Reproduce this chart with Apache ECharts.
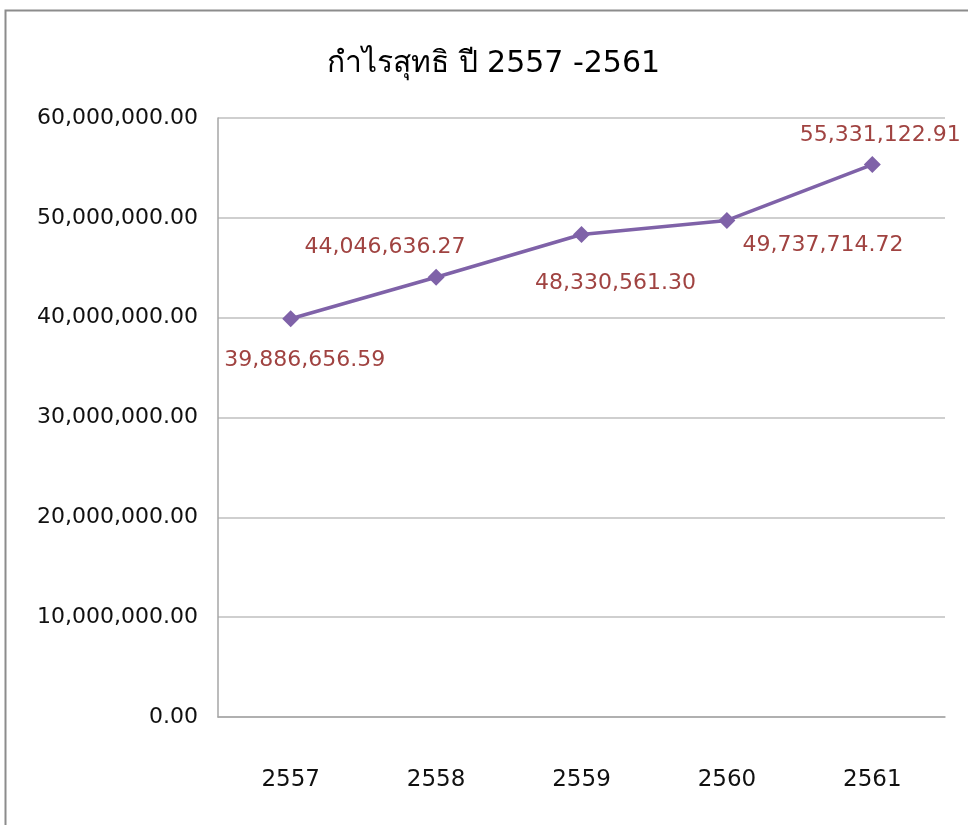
<!DOCTYPE html>
<html>
<head>
<meta charset="utf-8">
<script src="https://cdn.jsdelivr.net/npm/echarts@6/dist/echarts.min.js"></script>
<style>
  html, body { margin: 0; padding: 0; background: #fff; }
  #chart { width: 968px; height: 825px; }
</style>
</head>
<body>
<div id="chart"></div>
<script>
  // ปี (พ.ศ.)
  const years = ['2557', '2558', '2559', '2560', '2561'];
  // กำไรสุทธิ
  const netProfit = [39886656.59, 44046636.27, 48330561.30, 49737714.72, 55331122.91];
  // ตำแหน่งป้ายข้อความของแต่ละจุด (เลื่อนจากจุด)
  const labelOffsets = [[14, 41], [-51, -30], [34, 49], [96, 25], [8, -29]];

  function fmt(v) {
    return v.toLocaleString('en-US', { minimumFractionDigits: 2, maximumFractionDigits: 2 });
  }

  let chart = echarts.init(document.getElementById('chart'));
  let option = {
    backgroundColor: '#fff',
    title: {
      text: 'กำไรสุทธิ ปี 2557 -2561',
      left: 322,
      top: 44,
      textStyle: { fontSize: 30, fontWeight: 'normal', color: '#000', fontFamily: 'DejaVu Sans' }
    },
    graphic: [{
      type: 'rect',
      shape: { x: 5.5, y: 10.5, width: 1200, height: 1200 },
      style: { fill: 'none', stroke: '#8c8c8c', lineWidth: 2 },
      silent: true
    }],
    grid: { left: 218, right: 23, top: 118, bottom: 108 },
    xAxis: {
      type: 'category',
      data: years,
      boundaryGap: true,
      axisLine: { lineStyle: { color: '#a6a6a6', width: 1.5 } },
      axisTick: { show: false },
      axisLabel: { margin: 52, fontSize: 23, color: '#111', fontFamily: 'DejaVu Sans' }
    },
    yAxis: {
      type: 'value',
      min: 0,
      max: 60000000,
      interval: 10000000,
      axisLine: { show: true, lineStyle: { color: '#a6a6a6', width: 1.5 } },
      axisTick: { show: false },
      splitLine: { lineStyle: { color: '#bfbfbf', width: 1.5 } },
      axisLabel: {
        margin: 20, fontSize: 22, color: '#111', fontFamily: 'DejaVu Sans',
        formatter: fmt
      }
    },
    series: [{
      type: 'line',
      data: netProfit.map((v, i) => ({
        value: v,
        label: { offset: labelOffsets[i] }
      })),
      symbol: 'diamond',
      symbolSize: 17,
      lineStyle: { color: '#7f62a8', width: 3.5 },
      itemStyle: { color: '#7f62a8' },
      label: {
        show: true,
        position: 'inside',
        fontSize: 22,
        color: '#a04341',
        fontFamily: 'DejaVu Sans',
        formatter: p => fmt(p.value)
      },
      animation: false
    }]
  };
  chart.setOption(option, true);
  window.addEventListener('resize', function () {
    chart.resize();
  });
</script>
</body>
</html>
